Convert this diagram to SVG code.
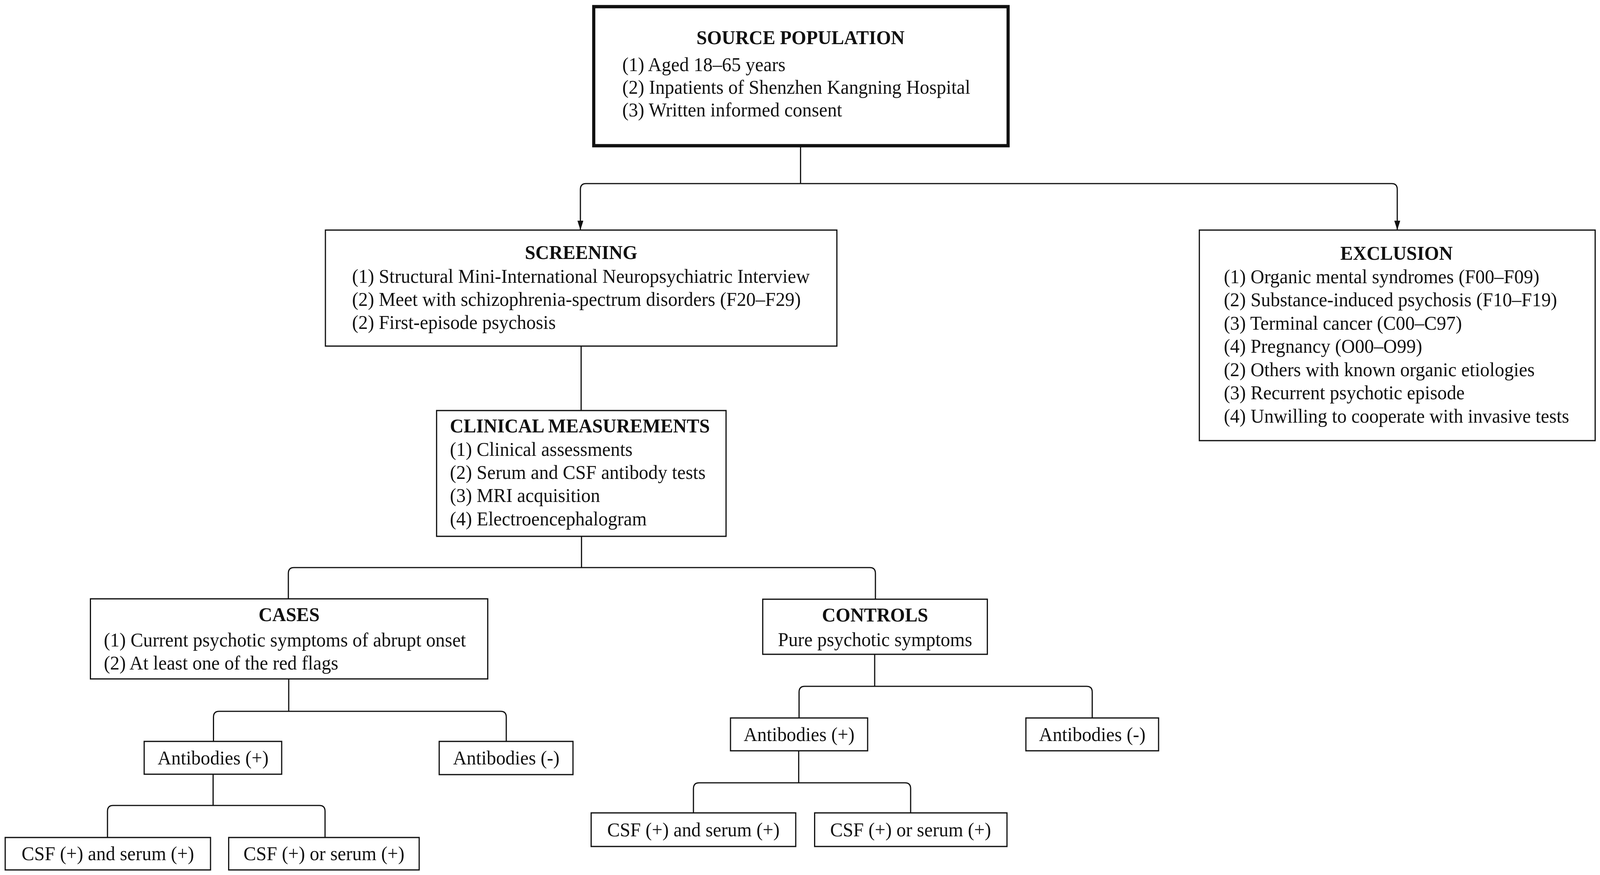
<svg xmlns="http://www.w3.org/2000/svg" width="4317" height="2240" viewBox="0 0 4317 2240">
<style>
  .box { fill: #ffffff; stroke: #111111; stroke-width: 3.2; }
  .thick { stroke-width: 8.5; }
  .conn { fill: none; stroke: #111111; stroke-width: 3.2; }
  text { font-family: "Liberation Serif", "Times New Roman", serif; font-size: 51px; fill: #111111; }
  .title { font-weight: bold; text-anchor: middle; }
  .mid { text-anchor: middle; }
</style>
<defs>
  <marker id="ah" markerUnits="userSpaceOnUse" markerWidth="24" markerHeight="16" viewBox="0 0 24 16" refX="24" refY="8" orient="auto">
    <path d="M0 0 L24 8 L0 16 Z" fill="#111111"/>
  </marker>
</defs>
<rect width="4317" height="2240" fill="#ffffff"/>
<g id="diagram" transform="scale(0.9488 1)">
<g id="connectors">
  <path class="conn" d="M2160 375 V470"/>
  <path class="conn" d="M2160 470 H1581 Q1566 470 1566 485 V589" marker-end="url(#ah)"/>
  <path class="conn" d="M2160 470 H3755 Q3770 470 3770 485 V589" marker-end="url(#ah)"/>
  <path class="conn" d="M1568 886 V1051"/>
  <path class="conn" d="M1569 1373 V1453 M1569 1453 H793 Q778 1453 778 1468 V1533 M1569 1453 H2347 Q2362 1453 2362 1468 V1534"/>
  <path class="conn" d="M779 1738 V1821 M779 1821 H591 Q576 1821 576 1836 V1898 M779 1821 H1351 Q1366 1821 1366 1836 V1898"/>
  <path class="conn" d="M575 1982 V2062 M575 2062 H305 Q290 2062 290 2077 V2144 M575 2062 H862 Q877 2062 877 2077 V2144"/>
  <path class="conn" d="M2360 1675 V1757 M2360 1757 H2171 Q2156 1757 2156 1772 V1838 M2360 1757 H2932 Q2947 1757 2947 1772 V1838"/>
  <path class="conn" d="M2155 1922 V2004 M2155 2004 H1886 Q1871 2004 1871 2019 V2081 M2155 2004 H2442 Q2457 2004 2457 2019 V2081"/>
</g>
<g id="source">
  <rect class="box thick" x="1602" y="17" width="1118" height="356"/>
  <text class="title" x="2160" y="113">SOURCE POPULATION</text>
  <text x="1679" y="182">(1) Aged 18–65 years</text>
  <text x="1679" y="240">(2) Inpatients of Shenzhen Kangning Hospital</text>
  <text x="1679" y="298">(3) Written informed consent</text>
</g>
<g id="screening">
  <rect class="box" x="878" y="589" width="1380" height="297"/>
  <text class="title" x="1568" y="663">SCREENING</text>
  <text x="950" y="724">(1) Structural Mini-International Neuropsychiatric Interview</text>
  <text x="950" y="783">(2) Meet with schizophrenia-spectrum disorders (F20–F29)</text>
  <text x="950" y="842">(2) First-episode psychosis</text>
</g>
<g id="exclusion">
  <rect class="box" x="3236" y="589" width="1068" height="539"/>
  <text class="title" x="3768" y="665">EXCLUSION</text>
  <text x="3302" y="725">(1) Organic mental syndromes (F00–F09)</text>
  <text x="3302" y="784">(2) Substance-induced psychosis (F10–F19)</text>
  <text x="3302" y="844">(3) Terminal cancer (C00–C97)</text>
  <text x="3302" y="903">(4) Pregnancy (O00–O99)</text>
  <text x="3302" y="963">(2) Others with known organic etiologies</text>
  <text x="3302" y="1022">(3) Recurrent psychotic episode</text>
  <text x="3302" y="1082">(4) Unwilling to cooperate with invasive tests</text>
</g>
<g id="clinical">
  <rect class="box" x="1178" y="1051" width="781" height="322"/>
  <text x="1214" y="1107" font-weight="bold">CLINICAL MEASUREMENTS</text>
  <text x="1214" y="1167">(1) Clinical assessments</text>
  <text x="1214" y="1226">(2) Serum and CSF antibody tests</text>
  <text x="1214" y="1285">(3) MRI acquisition</text>
  <text x="1214" y="1345">(4) Electroencephalogram</text>
</g>
<g id="cases">
  <rect class="box" x="244" y="1533" width="1072" height="205"/>
  <text class="title" x="780" y="1590">CASES</text>
  <text x="280" y="1655">(1) Current psychotic symptoms of abrupt onset</text>
  <text x="280" y="1714">(2) At least one of the red flags</text>
</g>
<g id="controls">
  <rect class="box" x="2058" y="1534" width="606" height="141"/>
  <text class="title" x="2361" y="1591">CONTROLS</text>
  <text class="mid" x="2361" y="1654">Pure psychotic symptoms</text>
</g>
<g id="cases-ab-pos">
  <rect class="box" x="389" y="1898" width="371" height="84"/>
  <text class="mid" x="575" y="1957">Antibodies (+)</text>
</g>
<g id="cases-ab-neg">
  <rect class="box" x="1185" y="1898" width="361" height="85"/>
  <text class="mid" x="1366" y="1957">Antibodies (-)</text>
</g>
<g id="cases-csf-and">
  <rect class="box" x="14" y="2144" width="554" height="83"/>
  <text class="mid" x="291" y="2202">CSF (+) and serum (+)</text>
</g>
<g id="cases-csf-or">
  <rect class="box" x="617" y="2144" width="514" height="83"/>
  <text class="mid" x="874" y="2202">CSF (+) or serum (+)</text>
</g>
<g id="controls-ab-pos">
  <rect class="box" x="1971" y="1838" width="370" height="84"/>
  <text class="mid" x="2156" y="1897">Antibodies (+)</text>
</g>
<g id="controls-ab-neg">
  <rect class="box" x="2768" y="1838" width="358" height="84"/>
  <text class="mid" x="2947" y="1897">Antibodies (-)</text>
</g>
<g id="controls-csf-and">
  <rect class="box" x="1595" y="2081" width="552" height="86"/>
  <text class="mid" x="1871" y="2141">CSF (+) and serum (+)</text>
</g>
<g id="controls-csf-or">
  <rect class="box" x="2198" y="2081" width="519" height="86"/>
  <text class="mid" x="2457" y="2141">CSF (+) or serum (+)</text>
</g>
</g>
</svg>
